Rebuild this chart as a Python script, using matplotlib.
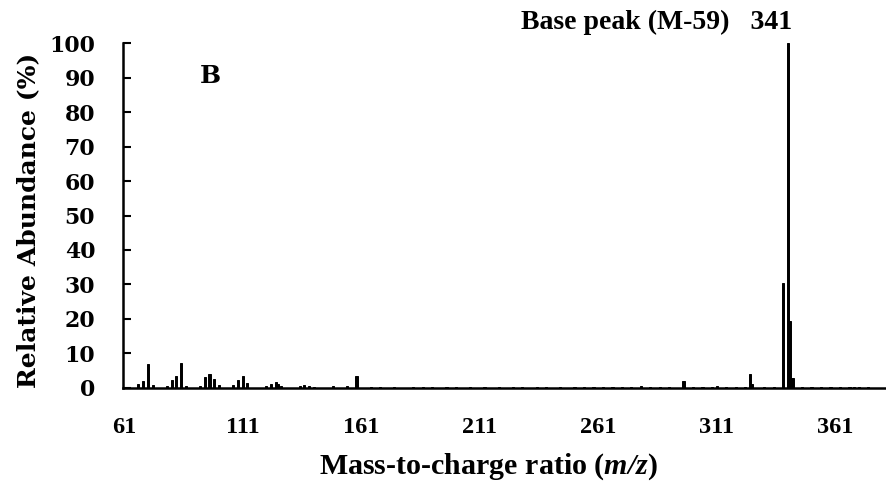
import matplotlib
matplotlib.use("Agg")
import matplotlib.pyplot as plt

plt.rcParams["mathtext.fontset"] = "custom"
plt.rcParams["mathtext.rm"] = "Liberation Serif:bold:italic"
plt.rcParams["mathtext.it"] = "Liberation Serif:bold:italic"
plt.rcParams["mathtext.bf"] = "Liberation Serif:bold"

# Mass spectrum peaks (m/z, relative abundance %)
peak_mz = [67, 69, 71, 73, 79, 81, 83, 85, 87, 93, 95, 97, 99, 101,
           107, 109, 111, 113, 121, 123, 125, 126, 127, 135, 137, 139,
           141, 149, 155, 159, 279, 297, 311, 325, 326, 339, 341, 342,
           343, 355, 367, 369]
peak_abund = [1.2, 1.9, 6.9, 0.7, 0.5, 2.3, 3.5, 7.1, 0.5, 0.4, 3.1, 4.0, 2.6, 0.9,
              0.7, 2.2, 3.3, 1.5, 0.6, 1.2, 1.6, 1.0, 0.6, 0.5, 0.7, 0.6,
              0.3, 0.4, 0.6, 3.4, 0.6, 2.0, 0.6, 4.1, 1.0, 30.3, 100.0, 19.5,
              2.7, 0.3, 0.3, 0.3]
# small baseline noise peaks
noise_mz = [165, 169, 175, 183, 187, 191, 197, 201, 207, 213, 219, 225, 229,
            235, 239, 245, 251, 255, 259, 263, 267, 271, 275, 283, 287, 291,
            301, 305, 309, 315, 319, 323, 331, 335, 347, 351, 359, 363, 371, 375]
noise_abund = [0.3, 0.2, 0.3, 0.2, 0.3, 0.2, 0.3, 0.2, 0.3, 0.2, 0.3, 0.2, 0.3,
               0.2, 0.3, 0.2, 0.3, 0.2, 0.3, 0.2, 0.3, 0.2, 0.3, 0.2, 0.3, 0.2,
               0.3, 0.2, 0.3, 0.2, 0.3, 0.2, 0.3, 0.2, 0.3, 0.2, 0.3, 0.2, 0.3, 0.2]

x_ticks = [61, 111, 161, 211, 261, 311, 361]
y_ticks = [0, 10, 20, 30, 40, 50, 60, 70, 80, 90, 100]

fig = plt.figure(figsize=(8.86, 4.91), dpi=100)
ax = fig.add_axes([123 / 886, 1 - 387.7 / 491, 762 / 886, 344.4 / 491])

ax.bar(peak_mz + noise_mz, peak_abund + noise_abund, width=0.9,
       color="black", edgecolor="black", linewidth=0.7)

ax.set_xlim(60.5, 382)
ax.set_ylim(0, 100)
ax.set_xticks(x_ticks)
ax.set_yticks(y_ticks)

for s in ["top", "right"]:
    ax.spines[s].set_visible(False)
for s in ["left", "bottom"]:
    ax.spines[s].set_linewidth(1.8)
    ax.spines[s].set_color("black")

ax.tick_params(axis="y", direction="in", length=6, width=1.5, pad=20)
ax.tick_params(axis="x", length=0, pad=21)

for lab in ax.get_yticklabels():
    lab.set_fontfamily("DejaVu Serif")
    lab.set_fontweight("bold")
    lab.set_fontsize(15.8)
for lab in ax.get_xticklabels():
    lab.set_fontfamily("Liberation Serif")
    lab.set_fontweight("bold")
    lab.set_fontsize(17.5)

ax.set_xlabel("Mass-to-charge ratio (" + r"$m/z$" + ")",
              fontfamily="Liberation Serif", fontweight="bold", fontsize=21.6)
ax.xaxis.label.set_va("center")
ax.xaxis.set_label_coords(0.48, -0.23)

ax.set_ylabel("Relative Abundance (%)", fontfamily="DejaVu Serif",
              fontweight="bold", fontsize=18)
ax.yaxis.label.set_va("center")
ax.yaxis.set_label_coords(-0.124, 0.487)

ax.text(97.5, 90.5, "B", fontfamily="DejaVu Serif", fontweight="bold",
        fontsize=18, ha="center", va="center")
ax.text(343, 104.1, "Base peak (M-59)   341", fontfamily="Liberation Serif",
        fontweight="bold", fontsize=20, ha="right", va="baseline", clip_on=False)

fig.savefig("out.png", dpi=100)
